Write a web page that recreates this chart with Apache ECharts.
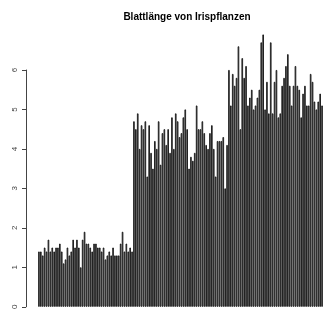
<!DOCTYPE html>
<html>
<head>
<meta charset="utf-8">
<script src="https://cdn.jsdelivr.net/npm/echarts@6/dist/echarts.min.js"></script>
<style>
  html, body { margin: 0; padding: 0; background: #fff; }
  #chart { width: 323px; height: 312px; }
</style>
</head>
<body>
<div id="chart"></div>
<script>
// Petal length per plant, in data order (setosa, versicolor, virginica)
const setosa = [1.4,1.4,1.3,1.5,1.4,1.7,1.4,1.5,1.4,1.5,1.5,1.6,1.4,1.1,1.2,1.5,1.3,1.4,1.7,1.5,
  1.7,1.5,1.0,1.7,1.9,1.6,1.6,1.5,1.4,1.6,1.6,1.5,1.5,1.4,1.5,1.2,1.3,1.4,1.3,1.5,
  1.3,1.3,1.3,1.6,1.9,1.4,1.6,1.4,1.5,1.4]
const versicolor = [4.7,4.5,4.9,4.0,4.6,4.5,4.7,3.3,4.6,3.9,3.5,4.2,4.0,4.7,3.6,4.4,4.5,4.1,4.5,3.9,
  4.8,4.0,4.9,4.7,4.3,4.4,4.8,5.0,4.5,3.5,3.8,3.7,3.9,5.1,4.5,4.5,4.7,4.4,4.1,4.0,
  4.4,4.6,4.0,3.3,4.2,4.2,4.2,4.3,3.0,4.1]
const virginica = [6.0,5.1,5.9,5.6,5.8,6.6,4.5,6.3,5.8,6.1,5.1,5.3,5.5,5.0,5.1,5.3,5.5,6.7,6.9,5.0,
  5.7,4.9,6.7,4.9,5.7,6.0,4.8,4.9,5.6,5.8,6.1,6.4,5.6,5.1,5.6,6.1,5.6,5.5,4.8,5.4,
  5.6,5.1,5.1,5.9,5.7,5.2,5.0,5.2,5.4,5.1]
const yTicks = [0, 1, 2, 3, 4, 5, 6]

const values = [...setosa, ...versicolor, ...virginica]
const categories = values.map((_, i) => String(i + 1))

const chart = echarts.init(document.getElementById('chart'))
chart.setOption({
  animation: false,
  backgroundColor: '#fff',
  title: {
    text: 'Blattlänge von Irispflanzen',
    left: 182,
    textAlign: 'center',
    top: 7,
    textStyle: { fontFamily: 'Liberation Sans, Arial, sans-serif', fontSize: 10, fontWeight: 'bold', color: '#000' },
  },
  grid: { left: 38, right: 0, top: 70, bottom: 4 },
  xAxis: {
    type: 'category',
    data: categories,
    show: false,
  },
  yAxis: {
    type: 'value',
    min: yTicks[0],
    max: yTicks[yTicks.length - 1],
    interval: 1,
    offset: 12,
    axisLine: { show: true, lineStyle: { color: '#444', width: 1 } },
    axisTick: { show: true, length: 4, lineStyle: { color: '#444' } },
    axisLabel: {
      rotate: 90,
      margin: 7,
      fontSize: 8,
      fontFamily: 'Liberation Sans, Arial, sans-serif',
      color: '#444',
    },
    splitLine: { show: false },
  },
  series: [{
    type: 'bar',
    data: values,
    clip: false,
    barCategoryGap: '20%',
    itemStyle: { color: '#bebebe', borderColor: '#000', borderWidth: 0.8 },
  }],
})
</script>
</body>
</html>
